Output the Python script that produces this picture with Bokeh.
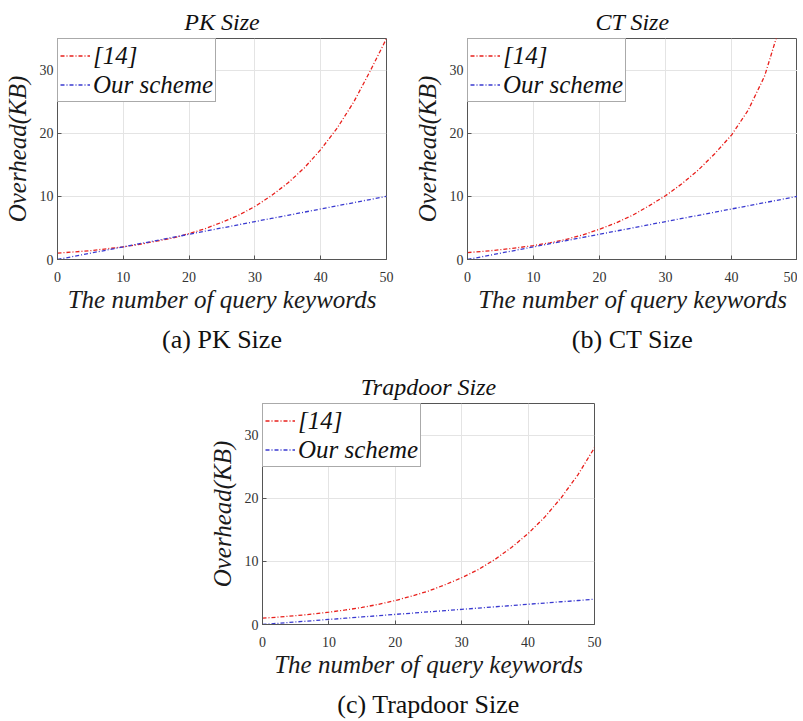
from bokeh.plotting import figure
from bokeh.models import Title, Range1d, Spacer
from bokeh.layouts import column, row
from bokeh.embed import file_html
from bokeh.resources import INLINE

# ---- data ----
keywords = [0, 2.5, 5, 7.5, 10, 12.5, 15, 17.5, 20, 22.5, 25, 27.5, 30, 32.5, 35, 37.5, 40, 42.5, 45, 47.5, 50]

pk_ref14 = [1.0, 1.2, 1.4, 1.7, 2.0, 2.4, 2.9, 3.4, 4.1, 4.9, 5.9, 7.0, 8.4, 10.1, 12.1, 14.5, 17.4, 20.8, 24.9, 29.8, 35.0]
pk_ours = [0.0, 0.5, 1.0, 1.5, 2.0, 2.5, 3.0, 3.5, 4.0, 4.5, 5.0, 5.5, 6.0, 6.5, 7.0, 7.5, 8.0, 8.5, 9.0, 9.5, 10.0]

ct_ref14 = [1.1, 1.3, 1.55, 1.85, 2.2, 2.65, 3.2, 3.9, 4.8, 5.8, 7.0, 8.5, 10.1, 12.0, 14.2, 16.8, 19.7, 23.6, 29.0, 37.5, 48.0]
ct_ours = [0.0, 0.5, 1.0, 1.5, 2.0, 2.5, 3.0, 3.5, 4.0, 4.5, 5.0, 5.5, 6.0, 6.5, 7.0, 7.5, 8.0, 8.5, 9.0, 9.5, 10.0]

td_ref14 = [1.0, 1.18, 1.4, 1.65, 1.95, 2.3, 2.7, 3.2, 3.8, 4.5, 5.3, 6.3, 7.4, 8.7, 10.3, 12.2, 14.4, 17.0, 20.1, 23.7, 28.0]
td_ours = [0.0, 0.2, 0.4, 0.6, 0.8, 1.0, 1.2, 1.4, 1.6, 1.8, 2.0, 2.2, 2.4, 2.6, 2.8, 3.0, 3.2, 3.4, 3.6, 3.8, 4.0]

x_ticks = [0, 10, 20, 30, 40, 50]
y_ticks = [0, 10, 20, 30]
series_names = ["[14]", "Our scheme"]

SERIF = "'Liberation Serif', 'Times New Roman', serif"
RED = "#e8201c"
BLUE = "#3a3ad0"


def make_panel(title, caption, red, blue, fw, fh, left, right, top, bottom):
    p = figure(frame_width=fw, frame_height=fh,
               x_range=Range1d(0, 50), y_range=Range1d(0, 35),
               output_backend="svg", toolbar_location=None,
               min_border_left=left, min_border_right=right,
               min_border_top=top, min_border_bottom=bottom,
               title=title)
    p.title.text_font = SERIF
    p.title.text_font_style = "italic"
    p.title.text_font_size = "24px"
    p.title.text_color = "#111111"
    p.title.align = "center"
    p.title.standoff = 8

    p.line(keywords, red, color=RED, line_width=1.3, line_dash="4 2 1 2",
           legend_label=series_names[0])
    p.line(keywords, blue, color=BLUE, line_width=1.3, line_dash="4 2 1 2",
           legend_label=series_names[1])

    p.xaxis.ticker = x_ticks
    p.yaxis.ticker = y_ticks
    for ax in (p.xaxis, p.yaxis):
        ax.major_label_text_font = SERIF
        ax.major_label_text_font_size = "14px"
        ax.major_label_text_color = "#333333"
        ax.axis_label_text_font = SERIF
        ax.axis_label_text_font_style = "italic"
        ax.axis_label_text_font_size = "25px"
        ax.axis_label_text_color = "#1a1a1a"
        ax.major_tick_in = 4
        ax.major_tick_out = 0
        ax.minor_tick_line_color = None
        ax.axis_line_color = "#555555"
        ax.major_tick_line_color = "#555555"
    p.xaxis.axis_label = "The number of query keywords"
    p.yaxis.axis_label = "Overhead(KB)"
    p.xaxis.major_label_standoff = 12
    p.xaxis.axis_label_standoff = 1
    p.yaxis.major_label_standoff = 4
    p.yaxis.axis_label_standoff = 6

    p.grid.grid_line_color = "#e4e4e4"
    p.outline_line_color = "#555555"
    p.outline_line_alpha = 1

    lg = p.legend[0]
    lg.location = "top_left"
    lg.margin = 0
    lg.padding = 2
    lg.spacing = 0
    lg.border_line_color = "#555555"
    lg.background_fill_alpha = 1
    lg.label_text_font = SERIF
    lg.label_text_font_style = "italic"
    lg.label_text_font_size = "25px"
    lg.label_text_color = "#111111"
    lg.glyph_width = 30
    lg.glyph_height = 29
    lg.label_height = 29
    lg.label_standoff = 3

    cap = Title(text=caption, align="center", text_font=SERIF,
                text_font_size="26px", text_font_style="normal",
                text_color="#111111", standoff=15)
    p.add_layout(cap, "below")
    return p


pa = make_panel("PK Size", "(a) PK Size", pk_ref14, pk_ours,
                329, 221, 53, 24, 38, 101)
pb = make_panel("CT Size", "(b) CT Size", ct_ref14, ct_ours,
                330, 221, 49, 0, 38, 101)
pc = make_panel("Trapdoor Size", "(c) Trapdoor Size", td_ref14, td_ours,
                332, 221, 53, 10, 42, 92)

layout = column(row(pa, pb), row(Spacer(width=205, height=10), pc))

open("out.html", "w").write(file_html(layout, INLINE))
